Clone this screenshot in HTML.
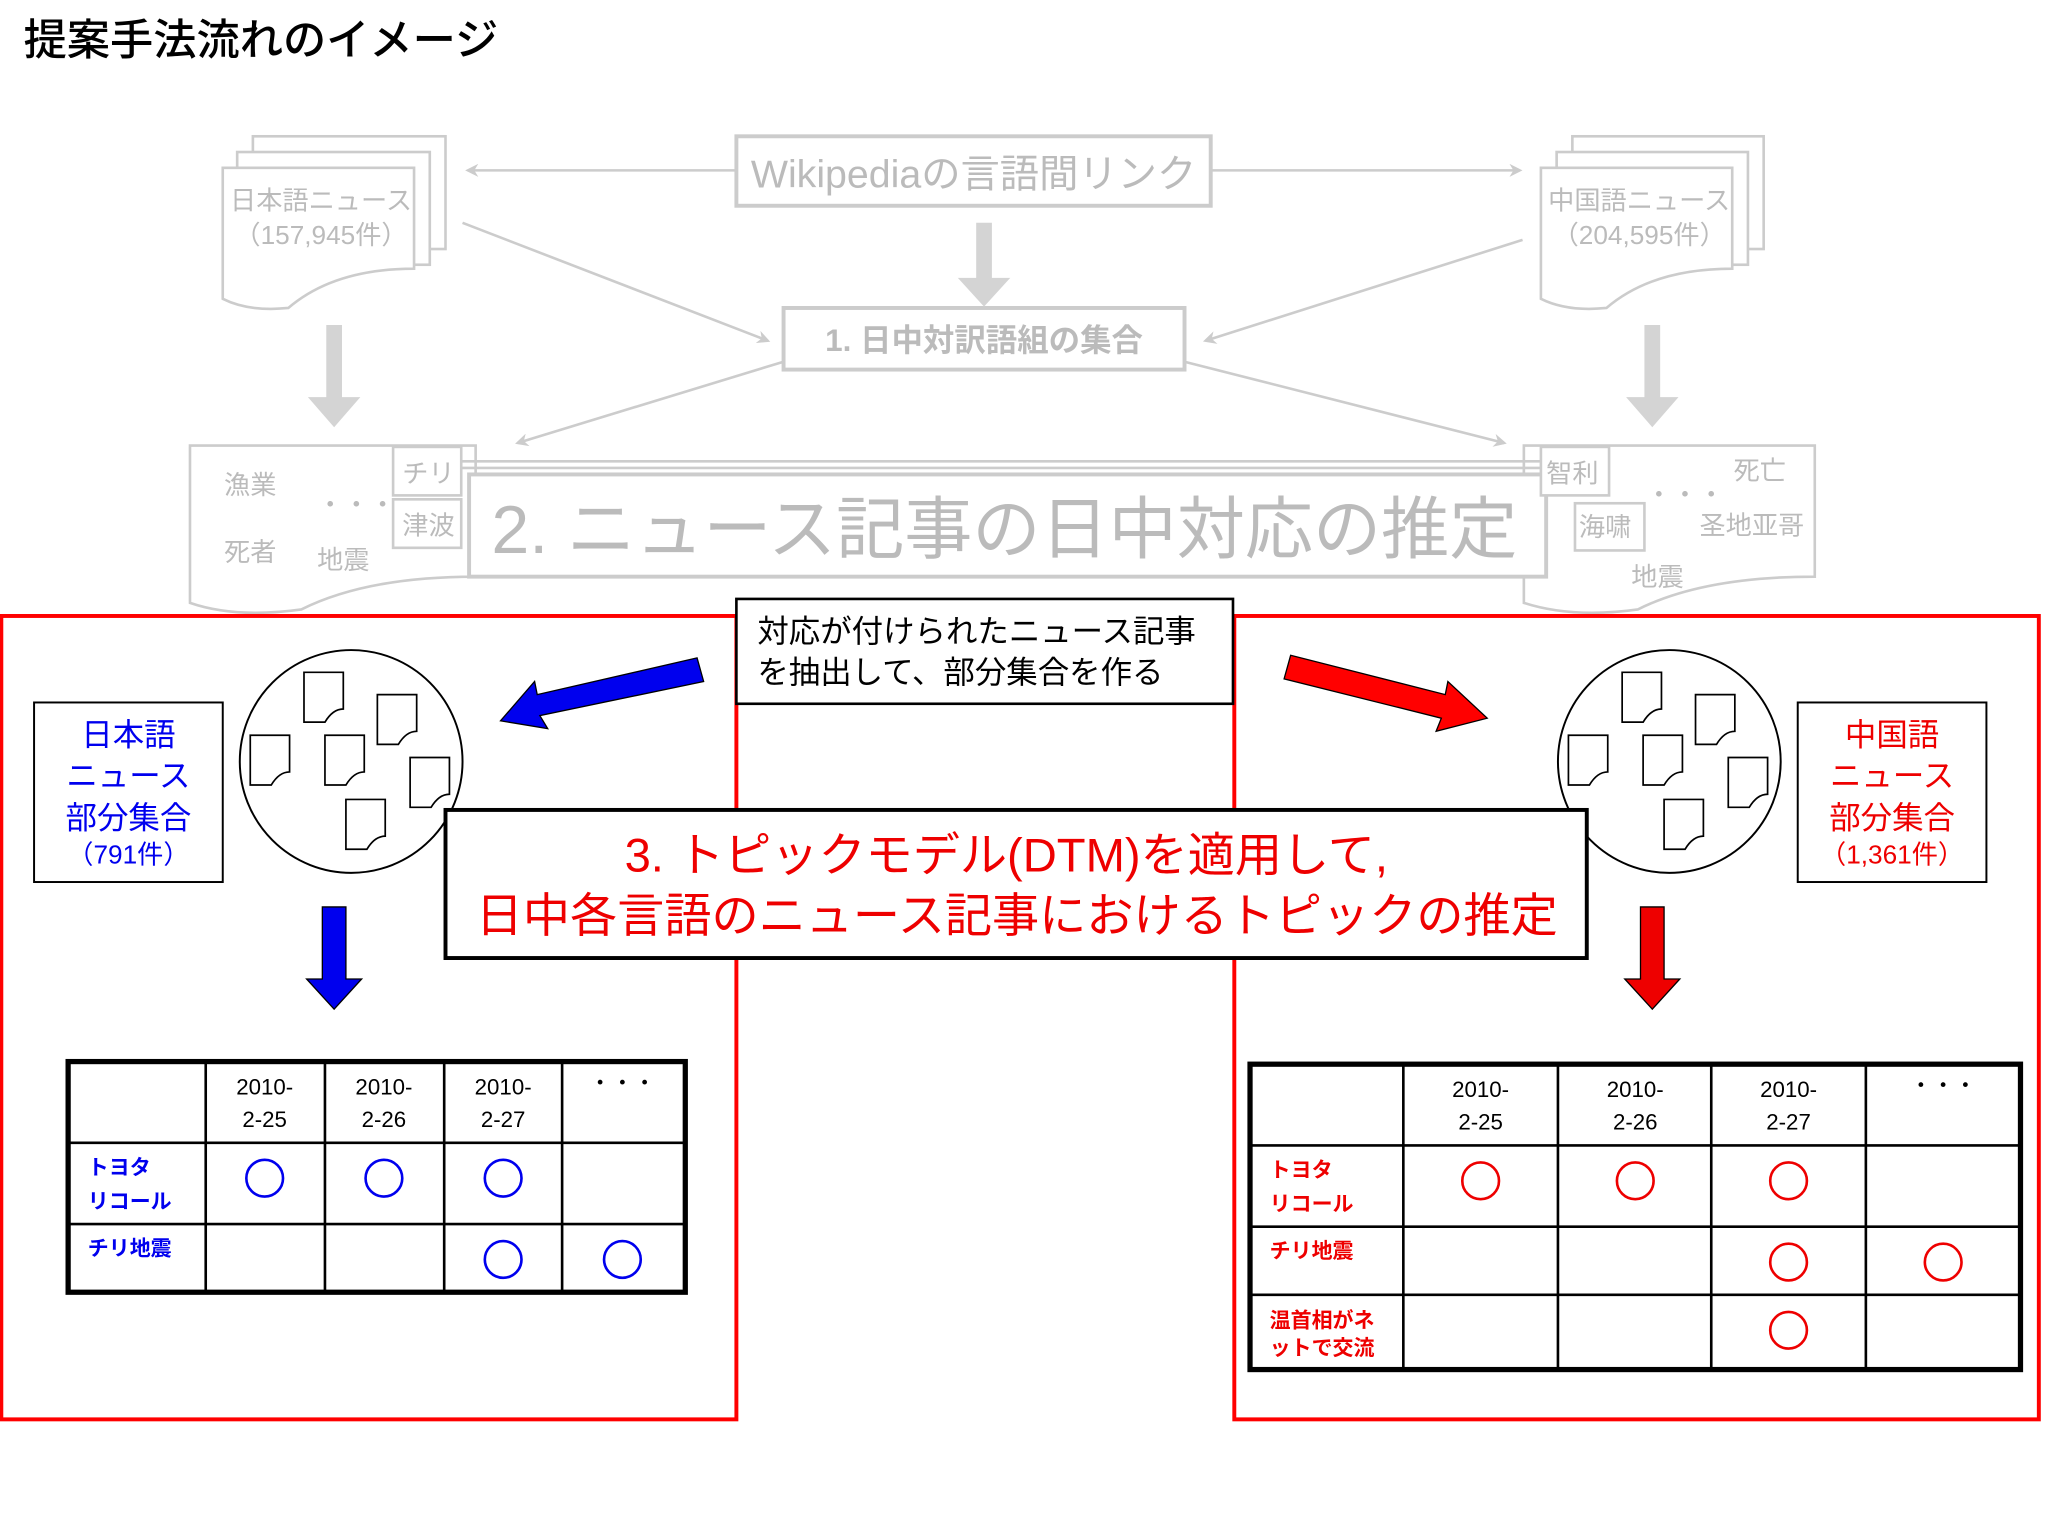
<!DOCTYPE html>
<html><head><meta charset="utf-8"><style>
html,body{margin:0;padding:0;background:#fff;}
svg{display:block;}
text{font-family:"Liberation Sans","Noto Sans CJK JP",sans-serif;}
</style></head><body>
<svg width="2048" height="1536" viewBox="0 0 1563 1172" preserveAspectRatio="none" xmlns="http://www.w3.org/2000/svg">
<defs>
<marker id="ga" markerWidth="10" markerHeight="10" refX="8" refY="5" orient="auto" markerUnits="userSpaceOnUse"><path d="M0,0 L10,5 L0,10 L3,5 Z" fill="#ccc"/></marker>
<g id="doc"><path d="M0,0 H30 V28 Q22,28 16,38 H0 Z" fill="#fff" stroke="#000" stroke-width="1.3"/></g>
</defs>
<rect width="1563" height="1172" fill="#fff"/>
<text x="18" y="42" font-size="33" font-weight="500" fill="#000">提案手法流れのイメージ</text>

<!-- gray upper part -->
<g stroke="#ccc" stroke-width="2" fill="#fff">
<rect x="193" y="104" width="147" height="86"/>
<rect x="181" y="116" width="147" height="86"/>
<path d="M170,128 H316 V205 Q255,205 220,235 Q190,238 170,228 Z"/>
<rect x="1200" y="104" width="146" height="86"/>
<rect x="1188" y="116" width="146" height="86"/>
<path d="M1176,128 H1322 V205 Q1261,205 1226,235 Q1196,238 1176,228 Z"/>
<rect x="562" y="104" width="362" height="53" stroke-width="3"/>
<rect x="598" y="235" width="306" height="47" stroke-width="3"/>
</g>
<g stroke="#ccc" stroke-width="2" fill="none">
<line x1="562" y1="130" x2="357" y2="130" marker-end="url(#ga)"/>
<line x1="924" y1="130" x2="1160" y2="130" marker-end="url(#ga)"/>
<line x1="353" y1="170" x2="586" y2="260" marker-end="url(#ga)"/>
<line x1="1162" y1="183" x2="920" y2="260" marker-end="url(#ga)"/>
<line x1="598" y1="276" x2="395" y2="338" marker-end="url(#ga)"/>
<line x1="904" y1="276" x2="1148" y2="338" marker-end="url(#ga)"/>
</g>
<g fill="#d4d4d4">
<path d="M745,170 H757 V212 H771 L751,234 L731,212 H745 Z"/>
<path d="M249,248 H261 V303 H275 L255,326 L235,303 H249 Z"/>
<path d="M1255,248 H1267 V303 H1281 L1261,326 L1241,303 H1255 Z"/>
</g>
<text x="743" y="143" font-size="30" fill="#bbb" text-anchor="middle">Wikipediaの言語間リンク</text>
<text x="245" y="160" font-size="20" fill="#bbb" text-anchor="middle">日本語ニュース</text>
<text x="245" y="186" font-size="20" fill="#bbb" text-anchor="middle">（157,945件）</text>
<text x="1251" y="160" font-size="20" fill="#bbb" text-anchor="middle">中国語ニュース</text>
<text x="1251" y="186" font-size="20" fill="#bbb" text-anchor="middle">（204,595件）</text>
<text x="751" y="268" font-size="24" font-weight="bold" fill="#bbb" text-anchor="middle">1. 日中対訳語組の集合</text>

<g stroke="#ccc" stroke-width="2" fill="#fff">
<path d="M145,340 H363 V440 Q280,440 230,465 Q180,472 145,460 Z"/>
<path d="M1163,340 H1385 V440 Q1300,440 1250,465 Q1200,472 1163,460 Z"/>
<line x1="352" y1="352" x2="1180" y2="352"/>
<line x1="352" y1="357" x2="1180" y2="357"/>
<rect x="358" y="362" width="822" height="78" stroke-width="3"/>
<rect x="300" y="341" width="52" height="37"/>
<rect x="300" y="381" width="52" height="37"/>
<rect x="1176" y="341" width="52" height="37"/>
<rect x="1202" y="384" width="53" height="36"/>
</g>
<g fill="#bbb" font-size="20">
<text x="171" y="377">漁業</text><text x="171" y="428">死者</text>
<text x="242" y="392">・・・</text><text x="242" y="434">地震</text>
<text x="307" y="368">チリ</text><text x="307" y="408">津波</text>
<text x="1180" y="368">智利</text><text x="1205" y="409">海啸</text>
<text x="1323" y="366">死亡</text><text x="1297" y="408">圣地亚哥</text>
<text x="1245" y="447">地震</text><text x="1256" y="384">・・・</text>
</g>
<text x="375" y="422" font-size="52" fill="#bbb">2. ニュース記事の日中対応の推定</text>

<!-- red boxes -->
<rect x="1" y="470" width="561" height="613" fill="none" stroke="#f00" stroke-width="3"/>
<rect x="942" y="470" width="614" height="613" fill="none" stroke="#f00" stroke-width="3"/>
<rect x="562" y="457" width="379" height="80" fill="#fff" stroke="#000" stroke-width="2"/>
<text x="578" y="490" font-size="24" fill="#000">対応が付けられたニュース記事</text>
<text x="578" y="521" font-size="24" fill="#000">を抽出して、部分集合を作る</text>

<path d="M532,502 L537,520 L412,546 L418,556 L382,550 L408,520 L410,530 Z" fill="#0000ee" stroke="#000" stroke-width="1"/>
<path d="M985,500 L980,518 L1100,548 L1096,558 L1135,548 L1105,520 L1103,530 Z" fill="#f00" stroke="#000" stroke-width="1"/>

<circle cx="268" cy="581" r="85" fill="#fff" stroke="#000" stroke-width="1.5"/>
<circle cx="1274" cy="581" r="85" fill="#fff" stroke="#000" stroke-width="1.5"/>
<use href="#doc" x="232" y="513"/><use href="#doc" x="288" y="530"/><use href="#doc" x="191" y="561"/>
<use href="#doc" x="248" y="561"/><use href="#doc" x="313" y="578"/><use href="#doc" x="264" y="610"/>
<use href="#doc" x="1238" y="513"/><use href="#doc" x="1294" y="530"/><use href="#doc" x="1197" y="561"/>
<use href="#doc" x="1254" y="561"/><use href="#doc" x="1319" y="578"/><use href="#doc" x="1270" y="610"/>

<rect x="26" y="536" width="144" height="137" fill="#fff" stroke="#000" stroke-width="1.5"/>
<g fill="#0000ee" text-anchor="middle" font-size="24">
<text x="98" y="569">日本語</text><text x="98" y="600">ニュース</text><text x="98" y="632">部分集合</text>
<text x="98" y="659" font-size="20">（791件）</text></g>
<rect x="1372" y="536" width="144" height="137" fill="#fff" stroke="#000" stroke-width="1.5"/>
<g fill="#ee0000" text-anchor="middle" font-size="24">
<text x="1444" y="569">中国語</text><text x="1444" y="600">ニュース</text><text x="1444" y="632">部分集合</text>
<text x="1444" y="659" font-size="20">（1,361件）</text></g>

<rect x="340" y="618" width="871" height="113" fill="#fff" stroke="#000" stroke-width="3"/>
<text x="768" y="665" font-size="36" fill="#ee0000" text-anchor="middle">3. トピックモデル(DTM)を適用して,</text>
<text x="776" y="711" font-size="36" fill="#ee0000" text-anchor="middle">日中各言語のニュース記事におけるトピックの推定</text>

<path d="M246,692 H264 V747 H276 L255,770 L234,747 H246 Z" fill="#0000ee" stroke="#000" stroke-width="1"/>
<path d="M1252,692 H1270 V747 H1282 L1261,770 L1240,747 H1252 Z" fill="#ee0000" stroke="#000" stroke-width="1"/>

<!-- left table -->
<g stroke="#000" fill="none">
<rect x="52" y="810" width="471" height="176" stroke-width="4"/>
<g stroke-width="2">
<line x1="157" y1="810" x2="157" y2="986"/><line x1="248" y1="810" x2="248" y2="986"/>
<line x1="339" y1="810" x2="339" y2="986"/><line x1="429" y1="810" x2="429" y2="986"/>
<line x1="52" y1="872" x2="523" y2="872"/><line x1="52" y1="934" x2="523" y2="934"/>
</g></g>
<g font-size="17" text-anchor="middle" fill="#000">
<text x="202" y="835">2010-</text><text x="202" y="860">2-25</text>
<text x="293" y="835">2010-</text><text x="293" y="860">2-26</text>
<text x="384" y="835">2010-</text><text x="384" y="860">2-27</text>
<text x="475" y="832">・・・</text></g>
<g font-size="16" font-weight="bold" fill="#0000ee">
<text x="67" y="896">トヨタ</text><text x="67" y="922">リコール</text><text x="67" y="958">チリ地震</text></g>
<g fill="none" stroke="#0000ee" stroke-width="2">
<circle cx="202" cy="899" r="14"/><circle cx="293" cy="899" r="14"/><circle cx="384" cy="899" r="14"/>
<circle cx="384" cy="961" r="14"/><circle cx="475" cy="961" r="14"/></g>

<!-- right table -->
<g stroke="#000" fill="none">
<rect x="954" y="812" width="588" height="233" stroke-width="4"/>
<g stroke-width="2">
<line x1="1071" y1="812" x2="1071" y2="1045"/><line x1="1189" y1="812" x2="1189" y2="1045"/>
<line x1="1306" y1="812" x2="1306" y2="1045"/><line x1="1424" y1="812" x2="1424" y2="1045"/>
<line x1="954" y1="874" x2="1542" y2="874"/><line x1="954" y1="936" x2="1542" y2="936"/>
<line x1="954" y1="988" x2="1542" y2="988"/>
</g></g>
<g font-size="17" text-anchor="middle" fill="#000">
<text x="1130" y="837">2010-</text><text x="1130" y="862">2-25</text>
<text x="1248" y="837">2010-</text><text x="1248" y="862">2-26</text>
<text x="1365" y="837">2010-</text><text x="1365" y="862">2-27</text>
<text x="1483" y="834">・・・</text></g>
<g font-size="16" font-weight="bold" fill="#ee0000">
<text x="969" y="898">トヨタ</text><text x="969" y="924">リコール</text><text x="969" y="960">チリ地震</text>
<text x="969" y="1013">温首相がネ</text><text x="969" y="1034">ットで交流</text></g>
<g fill="none" stroke="#ee0000" stroke-width="2">
<circle cx="1130" cy="901" r="14"/><circle cx="1248" cy="901" r="14"/><circle cx="1365" cy="901" r="14"/>
<circle cx="1365" cy="963" r="14"/><circle cx="1483" cy="963" r="14"/><circle cx="1365" cy="1015" r="14"/></g>
</svg>
</body></html>
